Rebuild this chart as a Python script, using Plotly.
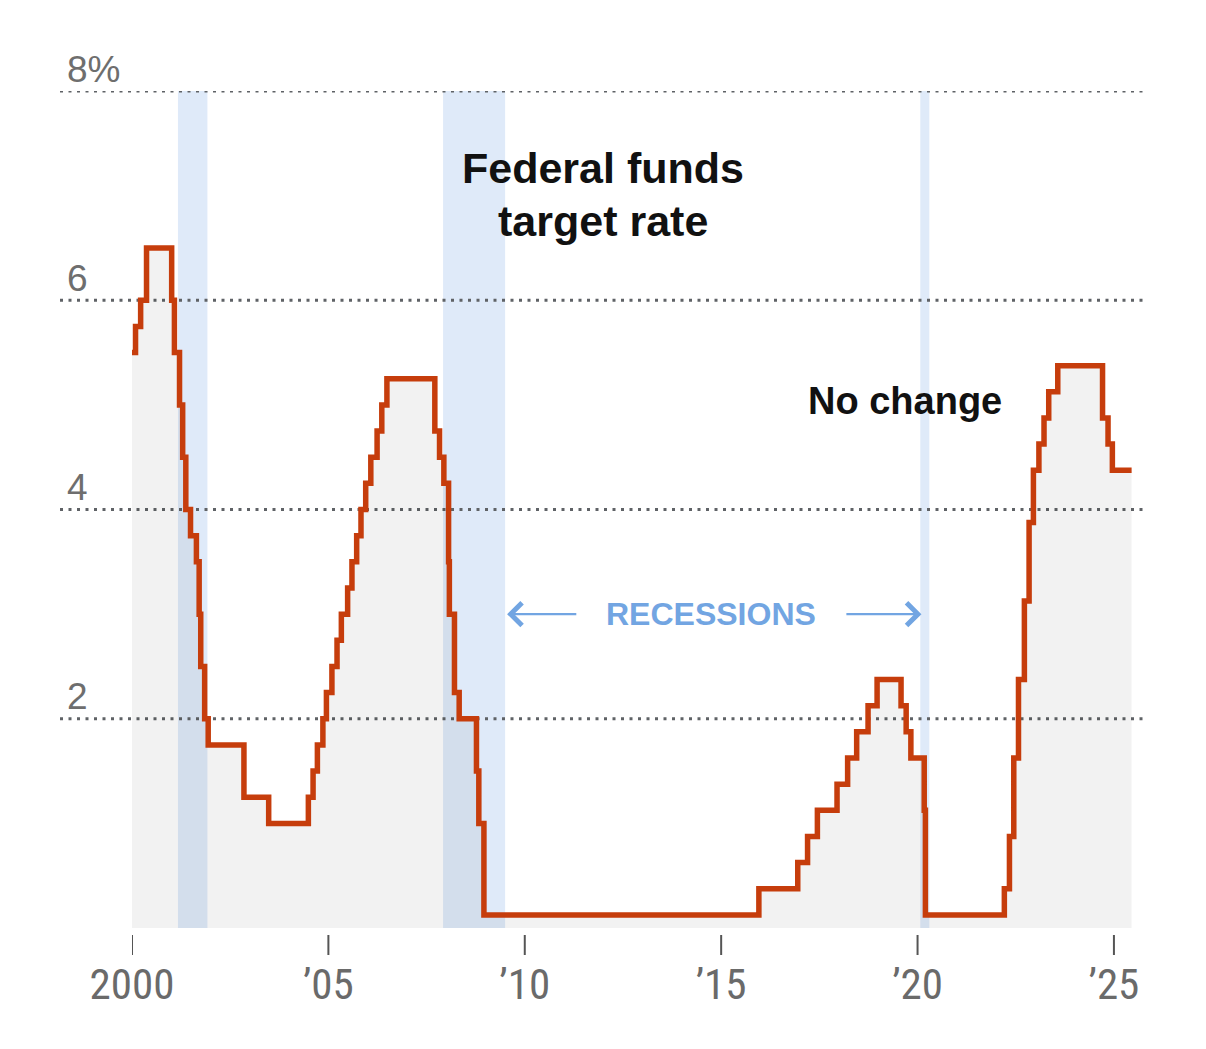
import plotly.graph_objects as go

# Federal funds target rate (midpoint of range after 2008), step changes as decimal years
change_dates = [2000.00, 2000.09, 2000.22, 2000.37, 2001.01, 2001.08, 2001.21, 2001.29, 2001.37,
                2001.49, 2001.64, 2001.71, 2001.75, 2001.85, 2001.94, 2002.85, 2003.48, 2004.49,
                2004.61, 2004.72, 2004.86, 2004.95, 2005.09, 2005.22, 2005.33, 2005.49, 2005.60,
                2005.72, 2005.83, 2005.95, 2006.08, 2006.24, 2006.36, 2006.49, 2007.71, 2007.83,
                2007.94, 2008.06, 2008.08, 2008.21, 2008.33, 2008.77, 2008.83, 2008.96, 2015.96,
                2016.95, 2017.20, 2017.45, 2017.95, 2018.22, 2018.45, 2018.74, 2018.97, 2019.58,
                2019.71, 2019.83, 2020.17, 2020.20, 2022.21, 2022.34, 2022.45, 2022.57, 2022.72,
                2022.84, 2022.95, 2023.09, 2023.22, 2023.34, 2023.57, 2024.71, 2024.85, 2024.96,
                2025.45]
rates = [5.5, 5.75, 6.0, 6.5, 6.0, 5.5, 5.0, 4.5, 4.0,
         3.75, 3.5, 3.0, 2.5, 2.0, 1.75, 1.25, 1.0, 1.25,
         1.5, 1.75, 2.0, 2.25, 2.5, 2.75, 3.0, 3.25, 3.5,
         3.75, 4.0, 4.25, 4.5, 4.75, 5.0, 5.25, 4.75, 4.5,
         4.25, 3.5, 3.0, 2.25, 2.0, 1.5, 1.0, 0.125, 0.375,
         0.625, 0.875, 1.125, 1.375, 1.625, 1.875, 2.125, 2.375, 2.125,
         1.875, 1.625, 1.125, 0.125, 0.375, 0.875, 1.625, 2.375, 3.125,
         3.875, 4.375, 4.625, 4.875, 5.125, 5.375, 4.875, 4.625, 4.375,
         4.375]

recession_starts = [2001.17, 2007.92, 2020.07]
recession_ends = [2001.92, 2009.50, 2020.30]

x_tick_values = [2000, 2005, 2010, 2015, 2020, 2025]
x_tick_labels = ["2000", "’05", "’10", "’15", "’20", "’25"]
y_grid_values = [2, 4, 6, 8]
y_grid_labels = ["2", "4", "6", "8%"]

LINE = "#c63d0c"
BAND = "#dfeaf9"
GRID = "#5f6266"
LABEL = "#6e6e6e"
BLUE = "#72a5e2"
BOLD = "Liberation Sans, Arial, sans-serif"

fig = go.Figure()
fig.add_trace(go.Scatter(
    x=change_dates, y=rates, mode="lines", line_shape="hv",
    line=dict(color=LINE, width=5.5),
    fill="tozeroy", fillcolor="rgba(0,0,0,0.05)",
    hoverinfo="skip", showlegend=False,
))

shapes = []
for s, e in zip(recession_starts, recession_ends):
    shapes.append(dict(type="rect", xref="x", yref="paper", x0=s, x1=e, y0=0, y1=1,
                       fillcolor=BAND, line=dict(width=0), layer="below"))
for v in y_grid_values:
    shapes.append(dict(type="line", xref="paper", yref="y", x0=-0.072, x1=1.013, y0=v, y1=v,
                       line=dict(color=GRID, width=3, dash="3px,5.5px"), layer="below"))
for t in x_tick_values:
    shapes.append(dict(type="line", xref="x", yref="paper", x0=t, x1=t, y0=-7/837, y1=-27/837,
                       line=dict(color="#555555", width=2)))

annotations = []
for v, lab in zip(y_grid_values, y_grid_labels):
    annotations.append(dict(x=-0.067, xref="paper", y=v, yref="y", text=lab, showarrow=False,
                            xanchor="left", yanchor="middle", yshift=22,
                            font=dict(family="Liberation Sans, Arial, sans-serif", size=37, color=LABEL)))

annotations += [
    dict(x=2011.99, y=7.26, xref="x", yref="y", text="Federal funds", showarrow=False,
         font=dict(family=BOLD, size=43, color="#111111", weight="bold")),
    dict(x=2011.99, y=6.76, xref="x", yref="y", text="target rate", showarrow=False,
         font=dict(family=BOLD, size=43, color="#111111", weight="bold")),
    dict(x=2019.68, y=5.04, xref="x", yref="y", text="No change", showarrow=False,
         font=dict(family=BOLD, size=38, color="#111111", weight="bold")),
    dict(x=2014.74, y=3.0, xref="x", yref="y", text="RECESSIONS", showarrow=False,
         font=dict(family=BOLD, size=32, color=BLUE, weight="bold")),
    dict(x=2009.55, y=3.0, xref="x", yref="y", ax=2011.35, ay=3.0, axref="x", ayref="y",
         text="", showarrow=True, arrowhead=4, arrowsize=2.0, arrowwidth=2.2, arrowcolor=BLUE),
    dict(x=2020.10, y=3.0, xref="x", yref="y", ax=2018.15, ay=3.0, axref="x", ayref="y",
         text="", showarrow=True, arrowhead=4, arrowsize=2.0, arrowwidth=2.2, arrowcolor=BLUE),
]

fig.update_layout(
    width=1206, height=1049,
    margin=dict(l=124, r=82, t=83, b=129),
    paper_bgcolor="white", plot_bgcolor="white",
    shapes=shapes, annotations=annotations,
    xaxis=dict(range=[2000, 2025.46], showgrid=False, zeroline=False, showline=False,
               tickvals=x_tick_values, ticktext=x_tick_labels, ticks="",
               ticklabelstandoff=27,
               tickfont=dict(family="Liberation Sans Narrow, Arial Narrow, Roboto Condensed, sans-serif",
                             size=43, color="#6a6a6a")),
    yaxis=dict(range=[0, 8], showgrid=False, zeroline=False, showline=False, showticklabels=False),
)

fig.write_html("out.html")
